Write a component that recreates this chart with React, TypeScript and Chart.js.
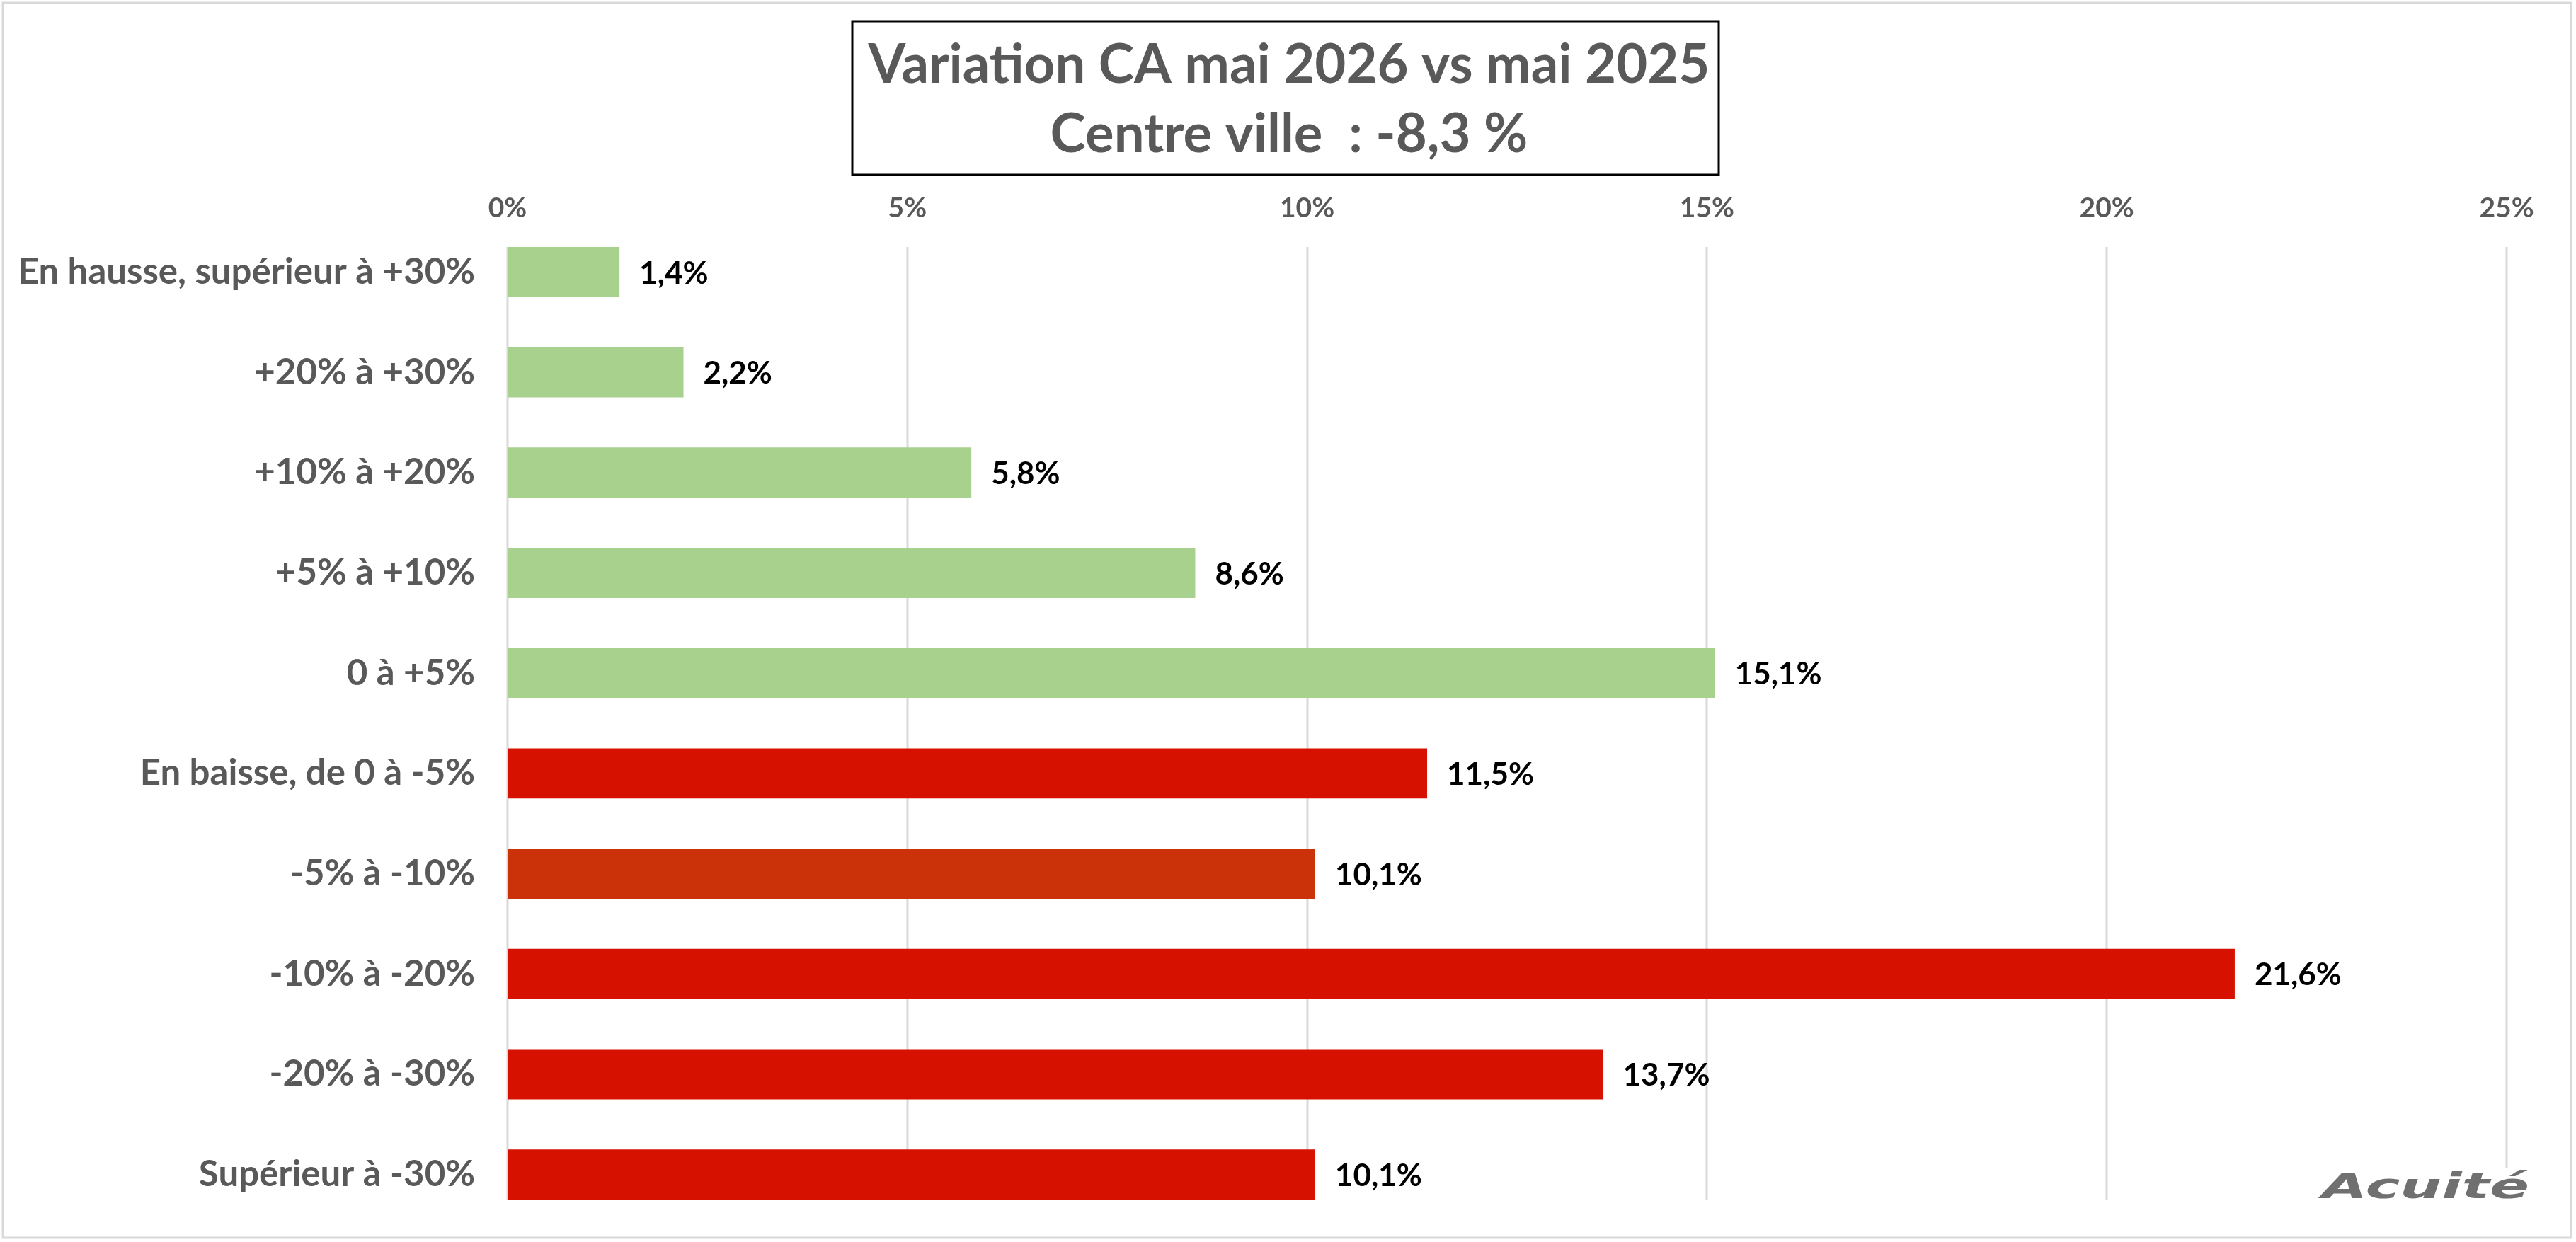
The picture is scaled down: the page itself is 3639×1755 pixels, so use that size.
import { useEffect, useRef } from "react";
import { Chart, registerables } from "chart.js";

Chart.register(...registerables);

const categories = [
  "En hausse, supérieur à +30%",
  "+20% à +30%",
  "+10% à +20%",
  "+5% à +10%",
  "0 à +5%",
  "En baisse, de 0 à -5%",
  "-5% à -10%",
  "-10% à -20%",
  "-20% à -30%",
  "Supérieur à -30%",
];
const values = [1.4, 2.2, 5.8, 8.6, 15.1, 11.5, 10.1, 21.6, 13.7, 10.1];
const barColors = [
  "#a9d18e",
  "#a9d18e",
  "#a9d18e",
  "#a9d18e",
  "#a9d18e",
  "#d71100",
  "#cc3209",
  "#d71100",
  "#d71100",
  "#d71100",
];
const xTicks = [0, 5, 10, 15, 20, 25];
const titleLines = ["Variation CA mai 2026 vs mai 2025", "Centre ville  : -8,3 %"];
const logoText = "Acuité";

const W = 3639;
const H = 1755;
const FONT = "Lato";
const GREY = "#595959";

const fmt = (v: number) => v.toFixed(1).replace(".", ",") + "%";

const decorPlugin = {
  id: "decor",
  beforeDatasetsDraw(chart: any) {
    const { ctx } = chart;
    const xs = chart.scales.x;
    const meta = chart.getDatasetMeta(0);
    const first = meta.data[0];
    const last = meta.data[meta.data.length - 1];
    const top = first.y - first.height / 2;
    const bottom = last.y + last.height / 2;
    ctx.save();
    ctx.strokeStyle = "#d9d9d9";
    ctx.lineWidth = 3;
    xs.ticks.forEach((t: any) => {
      const px = Math.round(xs.getPixelForValue(t.value));
      ctx.beginPath();
      ctx.moveTo(px, top);
      ctx.lineTo(px, bottom);
      ctx.stroke();
    });
    ctx.restore();
  },
  afterDatasetsDraw(chart: any) {
    const { ctx } = chart;
    const meta = chart.getDatasetMeta(0);
    ctx.save();
    ctx.fillStyle = "#000000";
    ctx.font = `bold 44px ${FONT}`;
    ctx.textAlign = "left";
    ctx.textBaseline = "middle";
    meta.data.forEach((bar: any, i: number) => {
      ctx.fillText(fmt(values[i]), bar.x + 28, bar.y + 2);
    });
    ctx.restore();
  },
  afterDraw(chart: any) {
    const { ctx } = chart;
    ctx.save();
    // outer frame
    ctx.strokeStyle = "#d9d9d9";
    ctx.lineWidth = 3;
    ctx.strokeRect(4, 4, W - 11, H - 10);
    // title box
    ctx.strokeStyle = "#000000";
    ctx.lineWidth = 3;
    ctx.strokeRect(1204, 30, 1224, 217);
    ctx.fillStyle = GREY;
    ctx.font = `bold 76px ${FONT}`;
    ctx.textAlign = "center";
    ctx.textBaseline = "alphabetic";
    ctx.fillText(titleLines[0], 1821, 117);
    ctx.fillText(titleLines[1], 1821, 215);
    // logo
    ctx.fillStyle = "#ffffff";
    ctx.fillRect(3270, 1650, 315, 50);
    ctx.font = `italic 900 50px 'DejaVu Sans'`;
    ctx.textBaseline = "alphabetic";
    const tw = ctx.measureText(logoText).width;
    const sx = 293 / tw;
    ctx.translate(3573, 1693);
    ctx.scale(sx, 1);
    ctx.fillStyle = "#707070";
    ctx.textAlign = "right";
    ctx.fillText(logoText, 0, 0);
    ctx.restore();
  },
};

export default function App() {
  const ref = useRef<HTMLCanvasElement | null>(null);

  useEffect(() => {
    let chart: Chart | null = null;
    let cancelled = false;
    const build = () => {
      if (cancelled || !ref.current) return;
      chart = new Chart(ref.current, {
        type: "bar",
        data: {
          labels: categories,
          datasets: [
            {
              data: values,
              backgroundColor: barColors,
              borderWidth: 0,
              barPercentage: 0.5,
              categoryPercentage: 1,
            },
          ],
        },
        options: {
          indexAxis: "y",
          responsive: false,
          animation: false,
          devicePixelRatio: 1,
          layout: { padding: { left: 0, top: 0, right: 98, bottom: 24.5 } },
          plugins: {
            legend: { display: false },
            tooltip: { enabled: false },
            title: { display: false },
          },
          scales: {
            x: {
              position: "top",
              min: 0,
              max: 25,
              grid: { display: false, drawTicks: false },
              border: { display: false },
              afterBuildTicks: (s: any) => {
                s.ticks = xTicks.map((v) => ({ value: v }));
              },
              ticks: {
                padding: 0,
                color: GREY,
                font: { family: FONT, weight: "bold", size: 39, lineHeight: 1 },
                callback: (v: any) => v + "%",
              },
              afterFit: (s: any) => {
                s.height = 313.5;
                s.paddingLeft = 0;
                s.paddingRight = 0;
              },
            },
            y: {
              grid: { display: false, drawTicks: false },
              border: { display: false },
              ticks: {
                padding: 46,
                color: GREY,
                font: { family: FONT, weight: "bold", size: 51 },
              },
              afterFit: (s: any) => {
                s.width = 717;
                s.paddingTop = 0;
                s.paddingBottom = 0;
              },
            },
          },
        },
        plugins: [decorPlugin],
      } as any);
    };
    const loads = [
      `bold 51px ${FONT}`,
      `bold 76px ${FONT}`,
      `italic 900 50px 'DejaVu Sans'`,
    ].map((f) => (document as any).fonts.load(f).catch(() => null));
    Promise.all(loads).then(build, build);
    return () => {
      cancelled = true;
      if (chart) chart.destroy();
    };
  }, []);

  return (
    <div style={{ position: "fixed", left: 0, top: 0, width: W, height: H, background: "#ffffff" }}>
      <canvas ref={ref} width={W} height={H} style={{ display: "block", width: W, height: H }} />
    </div>
  );
}
